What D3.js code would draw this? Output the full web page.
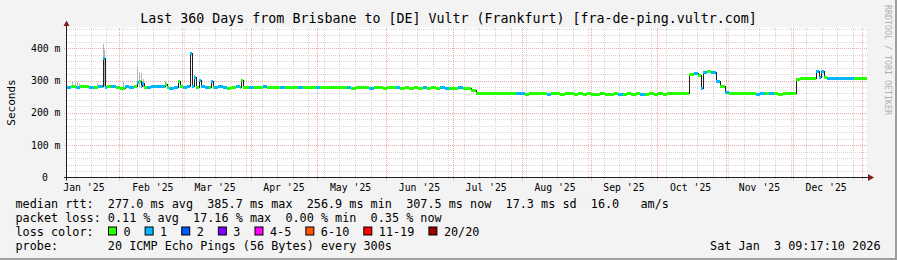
<!DOCTYPE html>
<html>
<head>
<meta charset="utf-8">
<script src="https://cdn.jsdelivr.net/npm/d3@7"></script>
<style>
  body { margin: 0; background: #f3f3f3; }
  svg { display: block; }
  text { font-family: "DejaVu Sans Mono", monospace; white-space: pre; }
</style>
</head>
<body>
<script>
// time range (Brisbane local time, kept as UTC so the browser zone does not matter)
const endTime = new Date(Date.UTC(2026, 0, 3, 9, 17, 10));
const spanDays = 360;
const binDays = 2;

// median rtt (ms), one value per 2 days from the start of the graph
const median = [
  281, 282, 280, 282, 283, 281, 280, 282, 281, 283,
  282, 281, 277, 282, 281, 283, 282, 280, 281, 282,
  283, 282, 281, 276, 280, 282, 281, 283, 282, 281,
  282, 281, 280, 281, 282, 281, 277, 281, 282, 281,
  280, 281, 280, 281, 282, 280, 281, 280, 279, 281,
  280, 279, 280, 281, 280, 279, 280, 279, 280, 279,
  280, 279, 280, 279, 278, 279, 280, 279, 278, 279,
  279, 278, 279, 280, 279, 278, 279, 278, 279, 278,
  279, 278, 279, 278, 279, 278, 277, 278, 279, 278,
  278, 272, 262, 261, 261, 260, 261, 260, 261, 260,
  260, 261, 260, 259, 260, 261, 260, 260, 259, 260,
  260, 259, 260, 260, 259, 260, 259, 260, 259, 259,
  260, 259, 259, 260, 259, 259, 260, 259, 260, 259,
  259, 260, 259, 260, 259, 260, 260, 261, 260, 261,
  320, 322, 318, 326, 329, 327, 300, 282, 266, 262,
  261, 260, 261, 260, 260, 259, 260, 260, 261, 260,
  259, 260, 260, 261, 306, 307, 308, 308, 307, 312,
  310, 308, 307, 308, 307, 308, 307, 308, 307, 308
];

// lost pings per bin (index into the loss colour table)
const loss = [
  1, 0, 1, 0, 0, 1, 0, 1, 1, 0,
  1, 0, 0, 1, 1, 0, 1, 0, 1, 1,
  1, 1, 0, 1, 1, 0, 1, 1, 1, 0,
  1, 1, 0, 1, 1, 1, 0, 0, 1, 0,
  0, 1, 0, 0, 1, 0, 0, 0, 1, 0,
  0, 0, 1, 0, 0, 0, 1, 0, 0, 0,
  0, 0, 0, 1, 0, 0, 0, 0, 1, 0,
  0, 0, 0, 0, 1, 0, 0, 0, 0, 0,
  1, 0, 0, 0, 1, 1, 0, 0, 1, 0,
  0, 0, 0, 0, 0, 0, 0, 0, 0, 0,
  0, 1, 1, 0, 0, 0, 0, 0, 1, 0,
  0, 0, 0, 0, 0, 0, 0, 0, 0, 0,
  0, 0, 0, 0, 1, 0, 0, 0, 0, 1,
  0, 0, 0, 0, 0, 0, 0, 0, 0, 0,
  0, 1, 0, 1, 0, 1, 1, 0, 1, 0,
  0, 0, 0, 0, 0, 1, 1, 0, 1, 0,
  0, 0, 0, 0, 0, 0, 0, 0, 0, 1,
  0, 1, 1, 1, 1, 1, 1, 0, 0, 0
];

// short median spikes: day offset from start, median, loss
const spikeDay  = [16.1, 31.6, 32.5, 33.6, 44.2, 49.9, 55.2, 57.0, 59.3, 64.6, 78.2, 285.4, 337.2, 339.5];
const spikeMed  = [369, 296, 299, 292, 290, 297, 385.7, 312, 302, 297, 302, 277, 330, 329];
const spikeLoss = [1, 1, 0, 1, 0, 0, 1, 1, 1, 1, 0, 1, 1, 1];

// smoke (spread of the 20 pings) where it shows above the median
const smokeDay = [2.4, 3.5, 4.4, 5.3, 13.4, 16.0, 16.5, 25.4, 31.4, 32.3, 33.3, 34.2, 44.2, 49.9, 55.2, 57.0, 64.6, 78.2];
const smokeTop = [297, 294, 296, 291, 293, 413, 395, 296, 342, 325, 323, 305, 299, 301, 389, 318, 300, 305];

const yTicks = [0, 100, 200, 300, 400];
const yTickLabels = ["0", "100 m", "200 m", "300 m", "400 m"];

const lossLabels = ["0", "1", "2", "3", "4-5", "6-10", "11-19", "20/20"];
const lossColors = ["#26ff00", "#00b8ff", "#0059ff", "#7e00ff", "#ff00ff", "#ff5500", "#ff0000", "#a10000"];

const title = "Last 360 Days from Brisbane to [DE] Vultr (Frankfurt) [fra-de-ping.vultr.com]";
const rttLine  = "median rtt:  277.0 ms avg  385.7 ms max  256.9 ms min  307.5 ms now  17.3 ms sd  16.0   am/s";
const lossLine = "packet loss: 0.11 % avg  17.16 % max  0.00 % min  0.35 % now";
const probeLine = "probe:       20 ICMP Echo Pings (56 Bytes) every 300s";
const stamp = "Sat Jan  3 09:17:10 2026";

// ---- drawing ----
const W = 897, H = 260;
const dayMs = 864e5;
const startTime = new Date(+endTime - spanDays * dayMs);

const svg = d3.select("body").append("svg")
  .attr("width", W)
  .attr("height", H);

svg.append("rect").attr("width", W).attr("height", H).attr("fill", "#f3f3f3");
svg.append("rect").attr("x", 0).attr("y", H - 2).attr("width", W).attr("height", 2).attr("fill", "#9e9e9e");
svg.append("rect").attr("x", W - 2).attr("y", 0).attr("width", 2).attr("height", H).attr("fill", "#9e9e9e");

const x = d3.scaleUtc().domain([startTime, endTime]).range([67, 867]);
const y = d3.scaleLinear().domain([0, 464]).range([177.5, 27.5]);

const plotTop = y.range()[1], plotBottom = y.range()[0];
const plotLeft = x.range()[0], plotRight = x.range()[1];

svg.append("rect")
  .attr("x", plotLeft).attr("y", plotTop)
  .attr("width", plotRight - plotLeft).attr("height", plotBottom - plotTop)
  .attr("fill", "#fff");

// grid
const grid = svg.append("g").attr("shape-rendering", "crispEdges");
const minorCol = "#d6d6d6", majorCol = "#f0a8a8";

grid.selectAll(".hmin")
  .data(d3.range(20, 464, 20).filter(v => v % 100 !== 0))
  .join("line")
  .attr("x1", plotLeft).attr("x2", plotRight + 1)
  .attr("y1", d => Math.round(y(d)) + 0.5).attr("y2", d => Math.round(y(d)) + 0.5)
  .attr("stroke", minorCol).attr("stroke-dasharray", "1,1");

grid.selectAll(".vmin")
  .data(d3.utcSunday.range(startTime, endTime))
  .join("line")
  .attr("x1", d => Math.round(x(d)) + 0.5).attr("x2", d => Math.round(x(d)) + 0.5)
  .attr("y1", plotTop).attr("y2", plotBottom + 2)
  .attr("stroke", minorCol).attr("stroke-dasharray", "1,1");

grid.selectAll(".hmaj")
  .data(yTicks.filter(v => v > 0))
  .join("line")
  .attr("x1", plotLeft - 3).attr("x2", plotRight + 1)
  .attr("y1", d => Math.round(y(d)) + 0.5).attr("y2", d => Math.round(y(d)) + 0.5)
  .attr("stroke", majorCol).attr("stroke-dasharray", "1,1");

grid.selectAll(".vmaj")
  .data(d3.utcMonth.range(startTime, endTime))
  .join("line")
  .attr("x1", d => Math.round(x(d)) + 0.5).attr("x2", d => Math.round(x(d)) + 0.5)
  .attr("y1", plotTop).attr("y2", plotBottom + 3)
  .attr("stroke", majorCol).attr("stroke-dasharray", "1,1");

// sample the series per pixel column
const samples = d3.range(plotLeft, plotRight).map(px => {
  const d = (x.invert(px + 0.5) - startTime) / dayMs;
  const k = spikeDay.findIndex(s => d >= s && d < s + 1);
  if (k >= 0) return { px, v: spikeMed[k], l: spikeLoss[k] };
  const b = Math.min(median.length - 1, Math.floor(d / binDays));
  return { px, v: median[b], l: loss[b] };
});

// smoke
svg.append("g").selectAll("rect")
  .data(smokeDay.map((d, i) => ({ d, top: smokeTop[i] })))
  .join("rect")
  .attr("x", s => Math.round(x(new Date(+startTime + s.d * dayMs))))
  .attr("width", 1)
  .attr("y", s => y(s.top))
  .attr("height", s => y(280) - y(s.top))
  .attr("fill", "#b4b4b4");

// median line (dark) then loss-coloured band
const line = d3.line()
  .x(d => d.px)
  .y(d => Math.round(y(d.v)) + 0.5)
  .curve(d3.curveStepAfter);

svg.append("path")
  .datum(samples.concat([{ px: plotRight, v: samples[samples.length - 1].v }]))
  .attr("d", line)
  .attr("fill", "none")
  .attr("stroke", "#202020")
  .attr("stroke-width", 1)
  .attr("shape-rendering", "crispEdges");

svg.append("g").attr("shape-rendering", "crispEdges")
  .selectAll("rect")
  .data(samples)
  .join("rect")
  .attr("x", d => d.px)
  .attr("width", 1)
  .attr("y", d => Math.round(y(d.v)) - 1)
  .attr("height", 3)
  .attr("fill", d => lossColors[d.l]);

// axes
svg.append("line")
  .attr("x1", plotLeft - 3).attr("x2", plotRight + 2)
  .attr("y1", plotBottom).attr("y2", plotBottom)
  .attr("stroke", "#1f1f1f");
svg.append("line")
  .attr("x1", plotLeft - 0.5).attr("x2", plotLeft - 0.5)
  .attr("y1", plotBottom + 3).attr("y2", plotTop - 2)
  .attr("stroke", "#1f1f1f");
svg.append("path")
  .attr("d", `M${plotRight + 1},${plotBottom - 3.5}L${plotRight + 7},${plotBottom}L${plotRight + 1},${plotBottom + 3.5}Z`)
  .attr("fill", "#801f1f");
svg.append("path")
  .attr("d", `M${plotLeft - 3.5},${plotTop - 1.5}L${plotLeft - 0.5},${plotTop - 7}L${plotLeft + 2.5},${plotTop - 1.5}Z`)
  .attr("fill", "#801f1f");

// y labels
svg.append("g").selectAll("text")
  .data(yTicks)
  .join("text")
  .attr("x", d => d === 0 ? 48 : 60.5)
  .attr("y", d => y(d) + 3.6)
  .attr("text-anchor", "end")
  .attr("font-size", "9.8px")
  .text((d, i) => yTickLabels[i]);

svg.append("text")
  .attr("transform", "translate(15.3,102.5) rotate(-90)")
  .attr("text-anchor", "middle")
  .attr("font-size", "11px")
  .text("Seconds");

// month labels, centred half a month after each month start
const fmt = d3.utcFormat("%b '%y");
const labelTimes = d3.utcMonth.range(d3.utcMonth.floor(startTime), endTime)
  .map(m => new Date(+m + 15 * dayMs))
  .filter(t => t > startTime && t < endTime);
svg.append("g").selectAll("text")
  .data(labelTimes)
  .join("text")
  .attr("x", d => x(d))
  .attr("y", 190.5)
  .attr("text-anchor", "middle")
  .attr("font-size", "9.8px")
  .text(d => fmt(new Date(+d - 15 * dayMs)));

// title and watermark
svg.append("text")
  .attr("x", W / 2).attr("y", 23)
  .attr("text-anchor", "middle")
  .attr("font-size", "13.3px")
  .text(title);

svg.append("text")
  .attr("transform", "translate(884.5,5) rotate(90)")
  .attr("font-size", "8.3px")
  .attr("fill", "#b0b0b0")
  .text("RRDTOOL / TOBI OETIKER");

// legend
const lx = 15.5, ly = 207.5, lh = 14, fs = "11.8px", cw = 7.12;
svg.append("text").attr("x", lx).attr("y", ly).attr("font-size", fs).text(rttLine);
svg.append("text").attr("x", lx).attr("y", ly + lh).attr("font-size", fs).text(lossLine);
svg.append("text").attr("x", lx).attr("y", ly + 2 * lh).attr("font-size", fs).text("loss color:");
svg.append("text").attr("x", lx).attr("y", ly + 3 * lh).attr("font-size", fs).text(probeLine);
svg.append("text").attr("x", 880.5).attr("y", ly + 3 * lh).attr("font-size", fs)
  .attr("text-anchor", "end").text(stamp);

let bx = 108;
const lg = svg.append("g");
lossLabels.forEach((lab, i) => {
  lg.append("rect")
    .attr("x", bx + 0.5).attr("y", ly + 2 * lh - 8.5)
    .attr("width", 8).attr("height", 8)
    .attr("fill", lossColors[i])
    .attr("stroke", "#000");
  lg.append("text")
    .attr("x", bx + 15.5).attr("y", ly + 2 * lh)
    .attr("font-size", fs)
    .text(lab);
  bx = bx + 16 + lab.length * cw + 13.5;
});
</script>
</body>
</html>
